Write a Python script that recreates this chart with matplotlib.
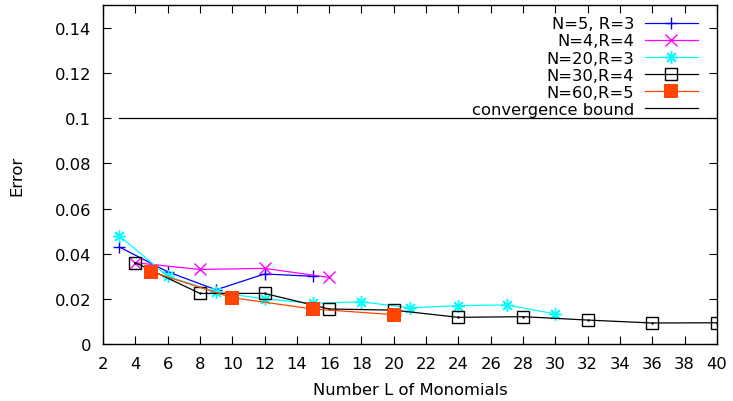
import numpy as np
import matplotlib
matplotlib.use("Agg")
import matplotlib.pyplot as plt
from matplotlib.ticker import FormatStrFormatter

# data
L_n5r3 = [3, 6, 9, 12, 15]
err_n5r3 = [0.043, 0.032, 0.024, 0.031, 0.030]

L_n4r4 = [4, 8, 12, 16]
err_n4r4 = [0.036, 0.033, 0.0335, 0.0295]

L_n20r3 = [3, 6, 9, 12, 15, 18, 21, 24, 27, 30]
err_n20r3 = [0.048, 0.030, 0.023, 0.020, 0.018, 0.0187, 0.016, 0.017, 0.0173, 0.0133]

L_n30r4 = [4, 8, 12, 16, 20, 24, 28, 32, 36, 40]
err_n30r4 = [0.036, 0.0224, 0.0224, 0.0155, 0.015, 0.0118, 0.0121, 0.0106, 0.0093, 0.0094]

L_n60r5 = [5, 10, 15, 20]
err_n60r5 = [0.032, 0.0205, 0.0155, 0.013]

bound_L = [3, 40]
bound_val = [0.1, 0.1]

plt.rcParams['font.family'] = ['DejaVu Sans']
fs = 11.8

fig = plt.figure(figsize=(7.33, 4.02), dpi=100)
ax = fig.add_axes([0.1405, 0.1418, 0.8375, 0.8425])

lw = 0.9
ax.plot(L_n5r3, err_n5r3, color='#0000ff', lw=lw, marker='+', ms=9, mew=1,
        label='N=5, R=3')
ax.plot(L_n4r4, err_n4r4, color='#ff00ff', lw=lw, marker='x', ms=8.5, mew=1,
        label='N=4,R=4')
ax.plot(L_n20r3, err_n20r3, color='#00ffff', lw=lw, marker=(8, 2, 0), ms=9, mew=1,
        label='N=20,R=3')
ax.plot(L_n30r4, err_n30r4, color='black', lw=lw, marker='s', ms=8.5, mew=1,
        mfc='none', label='N=30,R=4')
# centre dot of the open squares
ax.plot(L_n30r4, err_n30r4, ls='none', marker='.', ms=1.5, color='black')
ax.plot(L_n60r5, err_n60r5, color='#ff4500', lw=lw, marker='s', ms=9.5, mew=0,
        label='N=60,R=5')
ax.plot(bound_L, bound_val, color='black', lw=lw, label='convergence bound')

ax.set_xlim(2, 40)
ax.set_ylim(0, 0.15)
ax.set_xticks(np.arange(2, 41, 2))
ax.set_yticks(np.arange(0, 0.141, 0.02))
ax.yaxis.set_major_formatter(FormatStrFormatter('%g'))
ax.tick_params(direction='in', length=6, width=0.8, top=True, right=True,
               labelsize=fs, pad=8.5)
for s in ax.spines.values():
    s.set_linewidth(1)

ax.set_xlabel('Number L of Monomials', fontsize=fs, labelpad=8)
ax.set_ylabel('Error', fontsize=fs, labelpad=22)

ax.legend(loc='upper right', bbox_to_anchor=(1.0, 1.0245), frameon=False,
          markerfirst=False, fontsize=fs,
          handlelength=3.2, handletextpad=0.67, labelspacing=0.13,
          borderaxespad=0.98, borderpad=0.2)

fig.savefig('out.png', dpi=100)
